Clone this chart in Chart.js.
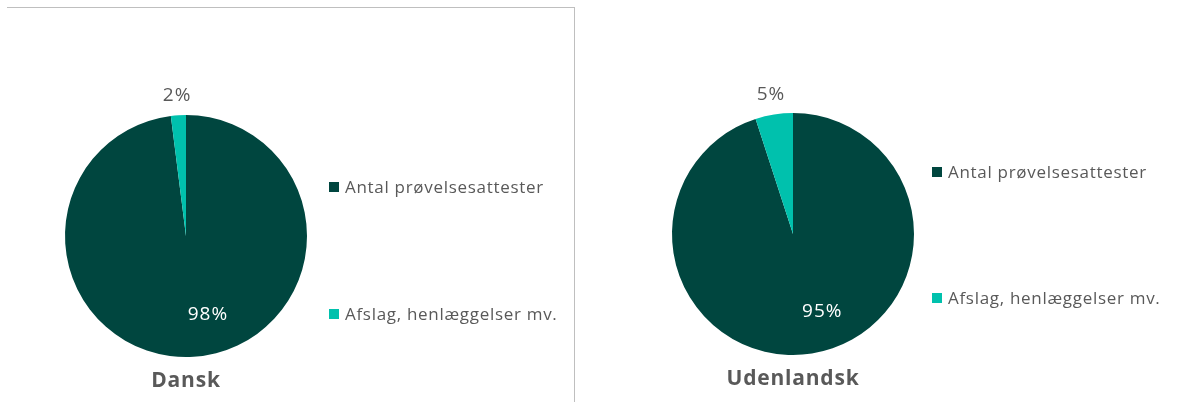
<!DOCTYPE html>
<html>
<head>
<meta charset="utf-8">
<script src="https://cdn.jsdelivr.net/npm/chart.js@4.4.0/dist/chart.umd.min.js"></script>
<style>
    body { margin: 0; background: #fff; width: 1178px; height: 402px; position: relative; overflow: hidden; }
    .panel { position: absolute; top: 0; height: 402px; }
    #p1 { left: 0; width: 575px; }
    #p2 { left: 575px; width: 603px; }
    .frame { position: absolute; left: 7px; top: 7px; width: 567px; height: 395px; border-top: 1px solid #bfbfbf; border-right: 1px solid #bfbfbf; }
</style>
</head>
<body>
<div class="frame"></div>
<div class="panel" id="p1"><canvas id="danskChart" width="575" height="402"></canvas></div>
<div class="panel" id="p2"><canvas id="udlandChart" width="603" height="402"></canvas></div>
<script>
const categories = ['Antal prøvelsesattester', 'Afslag, henlæggelser mv.'];
const danskValues = [98, 2];
const udenlandskValues = [95, 5];
const titles = ['Dansk', 'Udenlandsk'];
const colors = ['#00463f', '#00c1ad'];

const textFont = '"Open Sans", "Liberation Sans", sans-serif';

// draws percentage labels, legend and title the way Excel placed them
const excelLook = {
    id: 'excelLook',
    afterDraw(chart, args, opts) {
        const ctx = chart.ctx;
        const meta = chart.getDatasetMeta(0);
        const data = chart.data.datasets[0].data;
        const total = data.reduce((a, b) => a + b, 0);
        ctx.save();
        ctx.textAlign = 'center';
        ctx.textBaseline = 'middle';
        ctx.letterSpacing = '1px';
        meta.data.forEach((arc, i) => {
            const mid = (arc.startAngle + arc.endAngle) / 2;
            const pct = Math.round(data[i] / total * 100) + '%';
            ctx.font = '19px ' + textFont;
            if (data[i] / total > 0.5) {
                const d = arc.outerRadius * 0.65;
                ctx.fillStyle = '#ffffff';
                ctx.fillText(pct, arc.x + Math.cos(mid) * d + 17, arc.y + Math.sin(mid) * d);
            } else {
                const d = arc.outerRadius + 20;
                ctx.fillStyle = '#595959';
                ctx.fillText(pct, arc.x + Math.cos(mid) * d, arc.y + Math.sin(mid) * d);
            }
        });
        const cx = meta.data[0].x, cy = meta.data[0].y;
        // legend
        ctx.textAlign = 'left';
        ctx.letterSpacing = '0.7px';
        categories.forEach((c, i) => {
            const y = cy + opts.legendY[i];
            ctx.fillStyle = colors[i];
            ctx.fillRect(cx + opts.legendX, y - 5, 10, 10);
            ctx.fillStyle = '#595959';
            ctx.font = '17px ' + textFont;
            ctx.fillText(c, cx + opts.legendX + 16, y + 1);
        });
        // title below the pie
        ctx.textAlign = 'center';
        ctx.letterSpacing = '0.8px';
        ctx.font = 'bold 21px ' + textFont;
        ctx.fillStyle = '#595959';
        ctx.fillText(opts.title, cx, cy + meta.data[0].outerRadius + 24);
        ctx.restore();
    }
};

function pieChart(id, values, title, padding, legendY, legendX) {
    const ctx = document.getElementById(id).getContext('2d');
    return new Chart(ctx, {
        type: 'pie',
        data: {
            labels: categories,
            datasets: [{
                data: values,
                backgroundColor: colors,
                borderWidth: 0
            }]
        },
        options: {
            responsive: false,
            animation: false,
            layout: { padding: padding },
            plugins: {
                legend: { display: false },
                tooltip: { enabled: false },
                title: { display: false },
                excelLook: { title: title, legendY: legendY, legendX: legendX }
            }
        },
        plugins: [excelLook]
    });
}

pieChart('danskChart', danskValues, titles[0],
    { left: 65, right: 268, top: 115, bottom: 45 }, [-49, 78], 143);
pieChart('udlandChart', udenlandskValues, titles[1],
    { left: 97, right: 264, top: 113, bottom: 47 }, [-62, 64], 139);
</script>
</body>
</html>
